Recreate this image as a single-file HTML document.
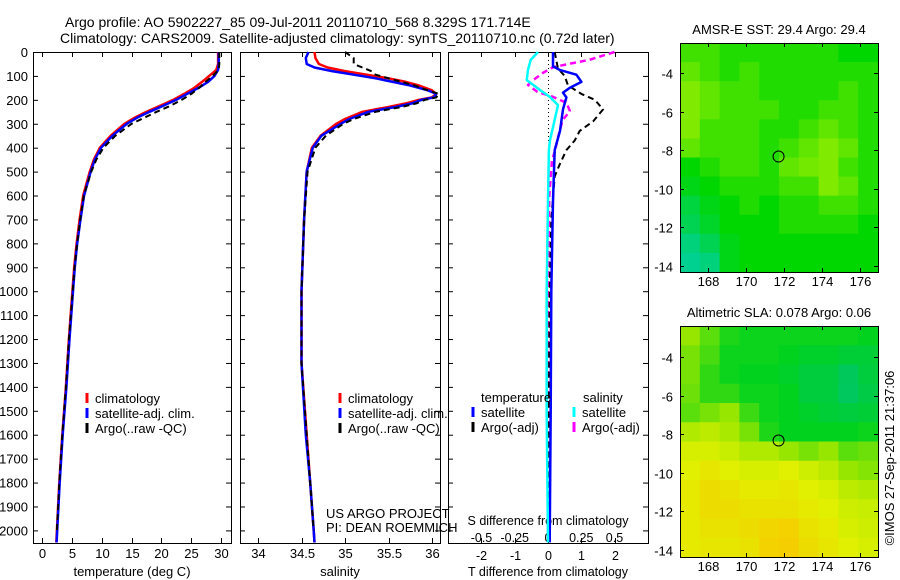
<!DOCTYPE html>
<html><head><meta charset="utf-8"><style>
body{margin:0;background:#fff}
svg{display:block;font-family:"Liberation Sans",sans-serif}
text{font-size:13px;fill:#000}
</style></head><body>
<svg id="fig" width="900" height="580" viewBox="0 0 900 580" xmlns="http://www.w3.org/2000/svg">
<text x="65" y="27" style="font-size:14px">Argo profile: AO 5902227_85 09-Jul-2011 20110710_568 8.329S 171.714E</text>
<text x="60" y="43" style="font-size:14px">Climatology: CARS2009. Satellite-adjusted climatology: synTS_20110710.nc (0.72d later)</text>
<g id="g"></g>
</svg>
<script>
// ---------- data ----------
const depthTicks = [0,100,200,300,400,500,600,700,800,900,1000,1100,1200,1300,1400,1500,1600,1700,1800,1900,2000];
const tTicks = [0,5,10,15,20,25,30];
const sTicks = [34,34.5,35,35.5,36];
const sTickLabels = ["34","34.5","35","35.5","36"];
const dTTicks = [-2,-1,0,1,2];
const dSTicks = [-0.5,-0.25,0,0.25,0.5];
const dSTickLabels = ["-0.5","-0.25","0","0.25","0.5"];

const tDepth = [0,50,75,100,125,150,175,200,225,250,275,300,350,400,450,500,600,700,800,900,1000,1200,1400,1600,1800,2000,2050];
const tClim = [29.5,29.5,29.2,28,26.8,25.5,23.8,22,19.8,17.5,15.5,13.8,11.5,9.7,8.7,8,6.9,6.3,5.8,5.4,5.1,4.5,4,3.4,2.9,2.5,2.4];
const tSat = [29.6,29.6,29.5,28.9,27.8,26.2,24.3,22.5,20.3,18,15.9,14.2,11.8,9.9,8.85,8.15,7.05,6.45,5.9,5.5,5.2,4.6,4.08,3.47,2.96,2.55,2.45];
const tArgo = [29.7,29.7,29.6,28.6,27.4,26.3,25,23.4,21.5,19.2,17.1,15,12.3,10.3,9.1,8.25,7,6.4,5.9,5.45,5.15,4.5,4,3.4,2.9,2.5];

const sDepth = [0,25,50,65,80,95,110,125,140,160,175,190,200,215,230,250,280,300,350,400,500,700,1000,1300,1600,1800,2000,2050];
const sClim = [34.65,34.66,34.7,34.8,35.0,35.25,35.5,35.7,35.85,36.0,36.05,36.0,35.85,35.7,35.5,35.2,35.0,34.9,34.72,34.62,34.56,34.53,34.5,34.5,34.56,34.6,34.64,34.65];
const sSat = [34.58,34.55,34.56,34.65,34.85,35.1,35.35,35.55,35.75,35.95,36.05,36.02,35.88,35.77,35.58,35.27,35.05,34.95,34.73,34.63,34.56,34.53,34.5,34.5,34.55,34.6,34.64,34.65];
const sArgo = [35.0,35.1,35.1,35.2,35.3,35.35,35.5,35.65,35.8,35.95,36.08,36.05,35.92,35.82,35.65,35.35,35.1,34.98,34.78,34.66,34.57,34.53,34.5,34.5,34.56,34.6,34.64];

const dTsatDepth = [0,60,75,95,125,150,170,190,240,330,410,620,1000,1500,2050];
const dTsat = [0.15,0.15,0.35,0.85,1.0,0.65,0.45,0.55,0.45,0.36,0.2,0.15,0.1,0.08,0.05];
const dTargoDepth = [0,70,100,140,175,200,240,290,330,370,410,470,520,700,1000,2000];
const dTargo = [0.2,0.3,0.5,0.6,1.0,1.4,1.65,1.35,0.95,0.8,0.55,0.35,0.2,0.1,0.05,0];
const dSsatDepth = [0,33,75,117,159,188,222,285,368,410,620,1000,1500,2050];
const dSsat = [-0.075,-0.13,-0.15,-0.16,-0.06,0.015,0.075,0.05,0.015,0.007,0,-0.01,-0.01,0];
const dSargoDepth = [0,12,33,46,63,88,117,138,167,188,213,247,285,368,410,452,600,1000,2000];
const dSargo = [0.5,0.43,0.31,0.19,0.04,-0.04,-0.11,-0.15,-0.08,0.04,0.14,0.165,0.11,0.07,0.055,0.03,0.01,0,0];

const lonTicks = [168,170,172,174,176];
const latTicks = [-4,-6,-8,-10,-12,-14];
const argoLon = 171.714, argoLat = -8.329;
const sstGrid = [
[.6,.6,.55,.55,.55,.55,.55,.55,.5,.5],
[.65,.6,.55,.6,.55,.55,.55,.55,.55,.55],
[.7,.65,.6,.6,.55,.55,.55,.55,.6,.55],
[.7,.65,.6,.6,.6,.55,.55,.6,.6,.55],
[.7,.6,.6,.6,.55,.55,.6,.65,.6,.55],
[.65,.6,.6,.6,.55,.6,.65,.7,.65,.55],
[.5,.55,.6,.6,.55,.65,.68,.7,.6,.55],
[.45,.5,.55,.55,.55,.6,.6,.7,.65,.55],
[.35,.45,.5,.55,.5,.55,.55,.6,.6,.55],
[.3,.4,.5,.5,.5,.55,.55,.55,.55,.5],
[.2,.3,.45,.5,.5,.5,.5,.5,.5,.5],
[.15,.2,.45,.5,.5,.5,.5,.5,.5,.5]];
const slaGrid = [
[.55,.45,.35,.32,.32,.32,.32,.32,.32,.3],
[.5,.42,.32,.32,.32,.3,.27,.27,.24,.24],
[.5,.38,.32,.3,.3,.27,.22,.22,.15,.22],
[.48,.38,.38,.32,.32,.3,.22,.22,.14,.2],
[.45,.5,.55,.4,.32,.3,.27,.24,.22,.24],
[.62,.65,.6,.5,.35,.3,.3,.3,.3,.32],
[.72,.72,.68,.62,.62,.55,.5,.55,.45,.48],
[.75,.8,.75,.72,.72,.75,.7,.65,.55,.52],
[.78,.85,.82,.78,.78,.8,.75,.72,.65,.62],
[.78,.85,.85,.82,.82,.82,.78,.75,.7,.68],
[.78,.82,.82,.85,.88,.9,.82,.78,.72,.7],
[.78,.8,.8,.82,.9,.92,.85,.8,.75,.72]];

// ---------- helpers ----------
const NS="http://www.w3.org/2000/svg";
const G=document.getElementById('g');
function mk(tag,attrs,parent){const e=document.createElementNS(NS,tag);for(const k in attrs)e.setAttribute(k,attrs[k]);(parent||G).appendChild(e);return e;}
function txt(x,y,s,anchor,parent,size){const e=mk('text',{x:x,y:y,'text-anchor':anchor||'start'},parent);if(size)e.style.fontSize=size+'px';e.textContent=s;return e;}

const TOP=52, BOT=543;
const yD = d => TOP + d*0.2392;
const xT = v => 42 + v*5.97;
const xS = v => 258 + (v-34)*87;
const xdT = v => 548 + v*33.4;
const xdS = v => 548 + v*133;

function frame(x0,x1,name){
  const r=mk('rect',{x:x0+.5,y:TOP+.5,width:x1-x0,height:BOT-TOP,fill:'none',stroke:'#000','stroke-width':1});
  
  
  depthTicks.forEach(d=>{const y=yD(d)+.5;
    mk('line',{x1:x0,y1:y,x2:x0+5,y2:y,stroke:'#000'});
    mk('line',{x1:x1-5,y1:y,x2:x1,y2:y,stroke:'#000'});});
}
function xTicks(ticks,labels,fx,ly,name){
  const g=mk('g',{});
  
  
  ticks.forEach((v,i)=>{const x=Math.round(fx(v))+.5;
    mk('line',{x1:x,y1:TOP,x2:x,y2:TOP+5,stroke:'#000'},g);
    mk('line',{x1:x,y1:BOT-5,x2:x,y2:BOT,stroke:'#000'},g);
    txt(x,ly,labels[i],'middle',g);});
}
function profile(vals,depths,fx,color,dash,name,w){
  const pts=vals.map((v,i)=>fx(v).toFixed(1)+','+yD(depths[i]).toFixed(1)).join(' ');
  const a={points:pts,fill:'none',stroke:color,'stroke-width':w||2.5,'stroke-linejoin':'round'};
  if(dash)a['stroke-dasharray']=dash;
  const p=mk('polyline',a);
  
  
}
function legendRow(x,y,color,label,name){
  const g=mk('g',{});
  
  
  mk('line',{x1:x,y1:y-10,x2:x,y2:y,stroke:color,'stroke-width':3},g);
  txt(x+8,y,label,'start',g);
}

// ---------- Y axis labels ----------
const ya=mk('g',{});


depthTicks.forEach(d=>txt(28,yD(d)+5,String(d),'end',ya));

// ---------- panel 1: temperature ----------
frame(33,231,'temperature-panel');
xTicks(tTicks,tTicks.map(String),xT,558,'temperature-x-axis');
txt(132,576,'temperature (deg C)','middle');
profile(tClim,tDepth,xT,'#ff0000',null,'temperature-climatology-line');
profile(tSat,tDepth,xT,'#0000ff',null,'temperature-satellite-line');
profile(tArgo,tDepth,xT,'#000000','6,4','temperature-argo-line',2);
legendRow(87,403,'#ff0000','climatology','legend-climatology');
legendRow(87,418,'#0000ff','satellite-adj. clim.','legend-satellite');
legendRow(87,433,'#000000','Argo(..raw -QC)','legend-argo');

// ---------- panel 2: salinity ----------
frame(240,440,'salinity-panel');
xTicks(sTicks,sTickLabels,xS,558,'salinity-x-axis');
txt(340,576,'salinity','middle');
profile(sClim,sDepth,xS,'#ff0000',null,'salinity-climatology-line');
profile(sSat,sDepth,xS,'#0000ff',null,'salinity-satellite-line');
profile(sArgo,sDepth,xS,'#000000','6,4','salinity-argo-line',2);
legendRow(340,403,'#ff0000','climatology','legend-s-climatology');
legendRow(340,418,'#0000ff','satellite-adj. clim.','legend-s-satellite');
legendRow(340,433,'#000000','Argo(..raw -QC)','legend-s-argo');
txt(326,518,'US ARGO PROJECT');
txt(326,532,'PI: DEAN ROEMMICH');

// ---------- panel 3: differences ----------
frame(448,648,'difference-panel');
mk('line',{x1:548.5,y1:TOP,x2:548.5,y2:yD(380),stroke:'#000','stroke-dasharray':'1,3'});
const d3=mk('g',{});


dTTicks.forEach(v=>{const x=Math.round(xdT(v))+.5;
  mk('line',{x1:x,y1:TOP,x2:x,y2:TOP+5,stroke:'#000'},d3);
  mk('line',{x1:x,y1:BOT-5,x2:x,y2:BOT,stroke:'#000'},d3);
  txt(x,560,String(v),'middle',d3,12.5);});
const d4=mk('g',{});


dSTicks.forEach((v,i)=>txt(xdS(v),542,dSTickLabels[i],'middle',d4,12.5));
txt(548,525,'S difference from climatology','middle',null,12.5);
txt(548,576,'T difference from climatology','middle',null,12.5);
profile(dSargo,dSargoDepth,xdS,'#ff00ff','6,4','s-argo-diff-line',2.5);
profile(dTargo,dTargoDepth,xdT,'#000000','6,4','t-argo-diff-line',2);
profile(dTsat,dTsatDepth,xdT,'#0000ff',null,'t-satellite-diff-line');
profile(dSsat,dSsatDepth,xdS,'#00ffff',null,'s-satellite-diff-line');
txt(481,402,'temperature');
txt(583,402,'salinity');
legendRow(473,417,'#0000ff','satellite','legend-t-satellite');
legendRow(473,432,'#000000','Argo(-adj)','legend-t-argo');
legendRow(574,417,'#00ffff','satellite','legend-s-satellite-diff');
legendRow(574,432,'#ff00ff','Argo(-adj)','legend-s-argo-diff');

// ---------- maps ----------
function lerp(a,b,t){return a.map((v,i)=>Math.round(v+(b[i]-v)*t));}
function cmap(v,stops){for(let i=0;i<stops.length-1;i++){if(v<=stops[i+1][0]){const t=(v-stops[i][0])/(stops[i+1][0]-stops[i][0]);return 'rgb('+lerp(stops[i][1],stops[i+1][1],t).join(',')+')';}}return 'rgb('+stops[stops.length-1][1].join(',')+')';}
const sstStops=[[0,[0,205,205]],[0.5,[0,215,0]],[0.75,[160,240,0]],[1,[240,240,0]]];
const slaStops=[[0,[0,190,150]],[0.3,[0,210,30]],[0.55,[150,230,0]],[0.75,[225,240,0]],[1,[255,190,0]]];
function map(y0,y1,lat4y,grid,stops,title,name){
  const x0=680,x1=878;
  const fx=lon=>708+(lon-168)*19;
  const fy=lat=>lat4y+(-4-lat)*19.3;
  const g=mk('g',{});
  
  
  const rows=grid.length, cols=grid[0].length;
  const cw=(x1-x0)/cols, ch=(y1-y0)/rows;
  grid.forEach((row,r)=>row.forEach((v,c)=>{
    const cell=mk('rect',{x:x0+c*cw,y:y0+r*ch,width:cw+.6,height:ch+.6,fill:cmap(v,stops)},g);
    
    
  }));
  mk('rect',{x:x0+.5,y:y0+.5,width:x1-x0,height:y1-y0,fill:'none',stroke:'#000'},g);
  lonTicks.forEach(l=>{const x=Math.round(fx(l))+.5;
    mk('line',{x1:x,y1:y0,x2:x,y2:y0+4,stroke:'#000'},g);
    mk('line',{x1:x,y1:y1-4,x2:x,y2:y1,stroke:'#000'},g);
    txt(x,y1+14,String(l),'middle',g);});
  latTicks.forEach(l=>{const y=Math.round(fy(l))+.5;
    mk('line',{x1:x0,y1:y,x2:x0+4,y2:y,stroke:'#000'},g);
    mk('line',{x1:x1-4,y1:y,x2:x1,y2:y,stroke:'#000'},g);
    txt(673,y+5,String(l),'end',g);});
  const c=mk('circle',{cx:fx(argoLon),cy:fy(argoLat),r:5.5,fill:'none',stroke:'#000'},g);
  
  
  txt(779,y0-9,title,'middle',g);
}
map(43,272,73,sstGrid,sstStops,'AMSR-E SST: 29.4 Argo: 29.4','sst-map');
map(326,557,357,slaGrid,slaStops,'Altimetric SLA: 0.078 Argo: 0.06','sla-map');
const cr=txt(0,0,'©IMOS 27-Sep-2011 21:37:06','middle');
cr.setAttribute('transform','translate(894,458) rotate(-90)');


</script>
</body></html>
